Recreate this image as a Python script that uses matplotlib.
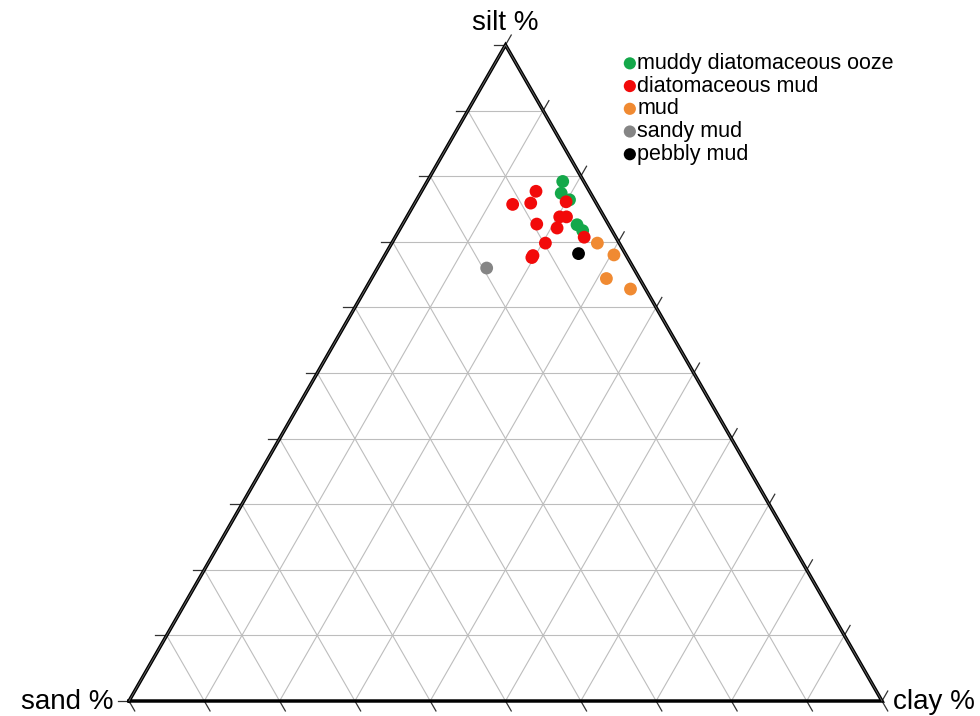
import matplotlib
matplotlib.use("Agg")
import matplotlib.pyplot as plt
import numpy as np

plt.rcParams['font.family'] = ['Liberation Sans', 'DejaVu Sans']

# ---- data (percent) ----
groups = ["muddy diatomaceous ooze", "diatomaceous mud", "mud", "sandy mud", "pebbly mud"]
colors = ["#14a84a", "#f20a0a", "#f08a32", "#858585", "#000000"]

ooze_sand = [2.8, 3.9, 3.3, 4.2, 3.9]
ooze_silt = [79.2, 77.4, 76.4, 72.6, 71.7]
ooze_clay = [18.0, 18.7, 20.3, 23.2, 24.4]

dmud_sand = [7.1, 11.2, 8.7, 3.9, 5.9, 5.0, 9.5, 7.1, 4.2, 9.8, 12.7, 12.4]
dmud_silt = [77.7, 75.7, 75.9, 76.1, 73.8, 73.8, 72.7, 72.1, 70.7, 69.8, 67.6, 67.9]
dmud_clay = [15.2, 13.1, 15.4, 20.0, 20.3, 21.2, 17.8, 20.8, 25.1, 20.4, 19.7, 19.7]

mud_sand = [2.9, 1.6, 4.4, 2.0]
mud_silt = [69.8, 68.0, 64.4, 62.8]
mud_clay = [27.3, 30.4, 31.2, 35.2]

smud_sand = [19.5]
smud_silt = [66.0]
smud_clay = [14.5]

pmud_sand = [6.2]
pmud_silt = [68.2]
pmud_clay = [25.6]

series = [
    (ooze_sand, ooze_silt, ooze_clay),
    (dmud_sand, dmud_silt, dmud_clay),
    (mud_sand, mud_silt, mud_clay),
    (smud_sand, smud_silt, smud_clay),
    (pmud_sand, pmud_silt, pmud_clay),
]

grid_levels = [10, 20, 30, 40, 50, 60, 70, 80, 90]
tick_levels = [0, 10, 20, 30, 40, 50, 60, 70, 80, 90, 100]


def tern(sand, silt, clay):
    sand = np.asarray(sand, float); silt = np.asarray(silt, float); clay = np.asarray(clay, float)
    tot = sand + silt + clay
    s = silt / tot
    c = clay / tot
    return c + 0.5 * s, s


W, H = 980, 716
fig = plt.figure(figsize=(W / 100, H / 100), dpi=100)
left_px, right_px, bot_px, top_px = 129, 882, 701, 45
ax = fig.add_axes([left_px / W, (H - bot_px) / H, (right_px - left_px) / W, (bot_px - top_px) / H])
ax.set_xlim(0, 1)
ax.set_ylim(0, 1)
ax.axis('off')

gcol = "#bdbdbd"
for g in grid_levels:
    f = g / 100
    # constant silt
    ax.plot([0.5 * f, 1 - 0.5 * f], [f, f], color=gcol, lw=0.8, zorder=1)
    # constant clay
    ax.plot([f, f + 0.5 * (1 - f)], [0, 1 - f], color=gcol, lw=0.8, zorder=1)
    # constant sand
    ax.plot([1 - f, 0.5 * (1 - f)], [0, 1 - f], color=gcol, lw=0.8, zorder=1)

# triangle outline
ax.plot([0, 1, 0.5, 0], [0, 0, 1, 0], color="black", lw=2.5, zorder=3,
        solid_joinstyle='miter', clip_on=False)
ax.plot([0, 0.5, 1], [0, 1, 0], color="#6a6a6a", lw=0.6, zorder=3.1, clip_on=False)

# ticks
Lpx = 11.5
sx = (right_px - left_px)
sy = (bot_px - top_px)
hx, hy = Lpx * 0.5 / sx, Lpx * 0.866 / sy
tcol = "#333333"
for t in tick_levels:
    f = t / 100
    # left edge: horizontal to the left
    x0, y0 = 0.5 * f, f
    ax.plot([x0, x0 - Lpx / sx], [y0, y0], color=tcol, lw=0.9, clip_on=False, zorder=2)
    # bottom edge: down-right
    x0, y0 = f, 0
    ax.plot([x0, x0 + hx], [y0, y0 - hy], color=tcol, lw=0.9, clip_on=False, zorder=2)
    # right edge: up-right
    x0, y0 = 1 - 0.5 * f, f
    ax.plot([x0, x0 + hx], [y0, y0 + hy], color=tcol, lw=0.9, clip_on=False, zorder=2)

# data
handles = []
for (sa, si, cl), name, col in zip(series, groups, colors):
    x, y = tern(sa, si, cl)
    h = ax.scatter(x, y, s=85, color=col, edgecolors='none', zorder=5, clip_on=False, label=name)
    handles.append(h)

# corner labels
fs = 20
fig.text(505 / W, 1 - 23 / H, "silt %", ha='center', va='center', fontsize=fs)
fig.text(113 / W, 1 - 702 / H, "sand %", ha='right', va='center', fontsize=fs)
fig.text(893 / W, 1 - 702 / H, "clay %", ha='left', va='center', fontsize=fs)

leg = fig.legend(handles=handles, labels=groups, loc='upper left',
                 bbox_to_anchor=(625 / W, 1 - 53 / H), frameon=False,
                 fontsize=15.5, handlelength=0.45, handletextpad=0.12,
                 labelspacing=0.08, borderpad=0, borderaxespad=0, markerscale=0.95)

fig.savefig("out.png", dpi=100, facecolor="white")
